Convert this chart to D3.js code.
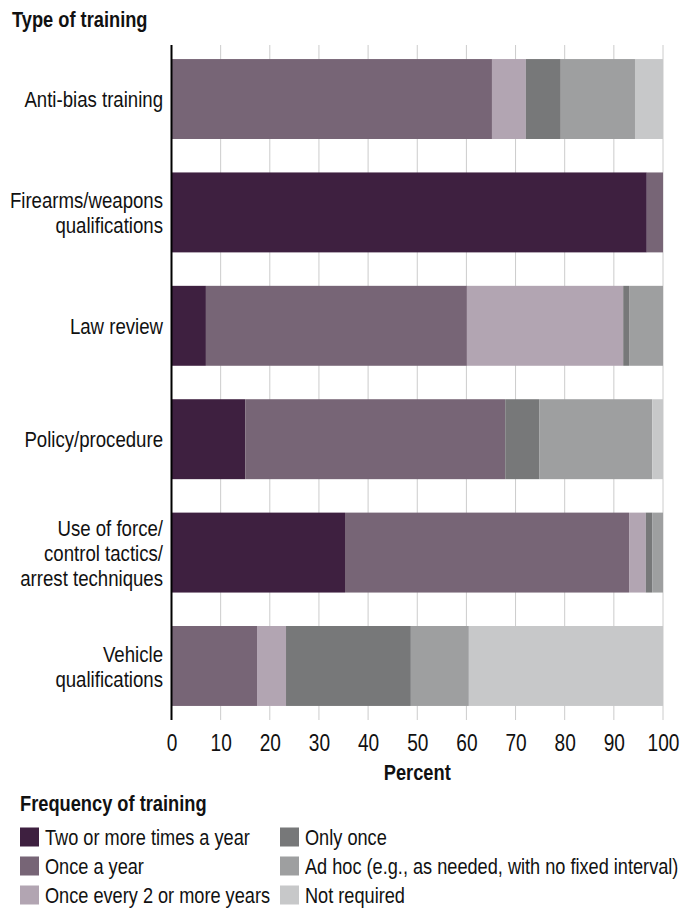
<!DOCTYPE html>
<html>
<head>
<meta charset="utf-8">
<script src="https://cdn.jsdelivr.net/npm/d3@7"></script>
<style>
  body { margin: 0; background: #fff; }
  text { font-family: "Liberation Sans", Arial, sans-serif; fill: #111; }
</style>
</head>
<body>
<script>
const width  = 695;
const height = 911;
// no condensed font installed, so squeeze text horizontally
const sx = 0.83;

// categories (each label split into lines)
const categories = [
  ['Anti-bias training'],
  ['Firearms/weapons', 'qualifications'],
  ['Law review'],
  ['Policy/procedure'],
  ['Use of force/', 'control tactics/', 'arrest techniques'],
  ['Vehicle', 'qualifications']
];

const seriesNames = [
  'Two or more times a year',
  'Once a year',
  'Once every 2 or more years',
  'Only once',
  'Ad hoc (e.g., as needed, with no fixed interval)',
  'Not required'
];

// percent values per series, same order as categories
const twoOrMore   = [0,    96.7, 7.0,  15.0, 35.3, 0];
const onceAYear   = [65.2, 3.3,  53.1, 52.9, 57.8, 17.4];
const everyTwo    = [6.9,  0,    31.8, 0,    3.4,  5.9];
const onlyOnce    = [7.1,  0,    1.2,  6.9,  1.3,  25.4];
const adHoc       = [15.1, 0,    6.9,  23.0, 2.2,  11.8];
const notRequired = [5.7,  0,    0,    2.2,  0,    39.5];

const xTicks = [0, 10, 20, 30, 40, 50, 60, 70, 80, 90, 100];

const colors = ['#3e2040', '#776576', '#b2a5b2', '#777879', '#9e9fa0', '#c7c8c9'];

const keys = ['twoOrMore', 'onceAYear', 'everyTwo', 'onlyOnce', 'adHoc', 'notRequired'];
const rows = categories.map((c, i) => ({
  id: i, label: c,
  twoOrMore: twoOrMore[i], onceAYear: onceAYear[i], everyTwo: everyTwo[i],
  onlyOnce: onlyOnce[i], adHoc: adHoc[i], notRequired: notRequired[i]
}));

const plotTop = 45, plotBottom = 720, plotLeft = 171.5, plotRight = 663;

const x = d3.scaleLinear().domain([0, 100]).range([plotLeft, plotRight]);
const y = d3.scaleBand().domain(rows.map(d => d.id))
  .range([plotTop, plotBottom]).paddingInner(0.295).paddingOuter(0.124);
const color = d3.scaleOrdinal().domain(keys).range(colors);

const svg = d3.select('body').append('svg')
  .attr('width', width).attr('height', height);

const place = (px, py, s) => 'translate(' + px + ',' + py + ') scale(' + (s || sx) + ',1)';

// axis title
svg.append('text').attr('transform', place(12, 27))
  .style('font-size', '22px').style('font-weight', 'bold')
  .text('Type of training');

// gridlines
svg.append('g').selectAll('line').data(xTicks.slice(1)).enter().append('line')
  .attr('x1', d => x(d)).attr('x2', d => x(d))
  .attr('y1', plotTop).attr('y2', plotBottom)
  .attr('stroke', '#cccccc').attr('stroke-width', 1);

// stacked bars
const stack = d3.stack().keys(keys)(rows);
svg.append('g').selectAll('g').data(stack).enter().append('g')
  .attr('fill', d => color(d.key))
  .selectAll('rect').data(d => d).enter().append('rect')
  .attr('x', d => x(d[0]))
  .attr('width', d => x(d[1]) - x(d[0]))
  .attr('y', d => y(d.data.id))
  .attr('height', y.bandwidth());

// left axis line
svg.append('line').attr('x1', plotLeft).attr('x2', plotLeft)
  .attr('y1', plotTop).attr('y2', plotBottom)
  .attr('stroke', '#000').attr('stroke-width', 2);

// category labels
const lineH = 25;
const labels = svg.append('g').selectAll('text').data(rows).enter().append('text')
  .attr('text-anchor', 'end')
  .attr('transform', place(163, 0, 0.81))
  .style('font-size', '23px');
labels.each(function(d) {
  const n = d.label.length;
  const cy = y(d.id) + y.bandwidth() / 2;
  d3.select(this).selectAll('tspan').data(d.label).enter().append('tspan')
    .attr('x', 0)
    .attr('y', (l, i) => cy + (i - (n - 1) / 2) * lineH)
    .attr('dy', '0.35em')
    .text(l => l);
});

// x tick labels
const xAxis = svg.append('g').attr('transform', 'translate(0,' + (plotBottom + 8) + ')')
  .call(d3.axisBottom(x).tickValues(xTicks).tickSize(0).tickPadding(0));
xAxis.select('.domain').remove();
xAxis.selectAll('text').attr('dy', '0.35em').attr('y', 15)
  .attr('transform', 'scale(' + sx + ',1)')
  .style('font-size', '23px');

svg.append('text').attr('transform', place((plotLeft + plotRight) / 2, 772))
  .attr('text-anchor', 'middle').attr('dy', '0.35em')
  .style('font-size', '22px').style('font-weight', 'bold')
  .text('Percent');

// legend
svg.append('text').attr('transform', place(20, 811))
  .style('font-size', '22px').style('font-weight', 'bold')
  .text('Frequency of training');

const legend = svg.append('g').selectAll('g').data(seriesNames).enter().append('g')
  .attr('transform', (d, i) => 'translate(' + (i < 3 ? 20 : 280) + ',' + (837 + (i % 3) * 29) + ')');
legend.append('rect').attr('x', 0).attr('y', -9.5).attr('width', 19).attr('height', 19)
  .attr('fill', (d, i) => colors[i]);
legend.append('text').attr('transform', place(25, 0, 0.845)).attr('dy', '0.35em')
  .style('font-size', '21.5px')
  .text(d => d);
</script>
</body>
</html>
